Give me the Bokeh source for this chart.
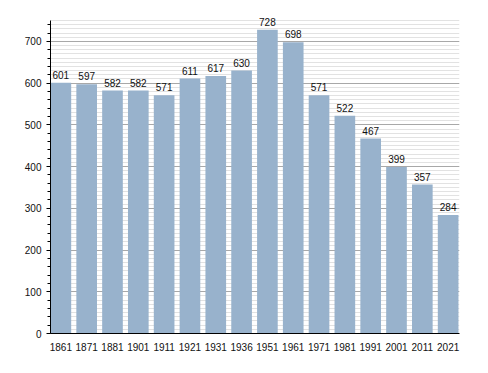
from bokeh.plotting import figure
from bokeh.models import ColumnDataSource, FixedTicker, SingleIntervalTicker, LabelSet
from bokeh.core.properties import value
from bokeh.embed import file_html
from bokeh.resources import INLINE

years = ["1861", "1871", "1881", "1901", "1911", "1921", "1931", "1936",
         "1951", "1961", "1971", "1981", "1991", "2001", "2011", "2021"]
population = [601, 597, 582, 582, 571, 611, 617, 630, 728, 698, 571, 522, 467, 399, 357, 284]
y_axis_max = 750

idx = list(range(len(years)))
src = ColumnDataSource(dict(x=idx, y=population, lab=[str(v) for v in population]))

p = figure(width=472, height=357, x_range=(-0.401, 15.44), y_range=(0, 778.75),
           output_backend="svg", toolbar_location=None,
           min_border_left=50, min_border_right=13, min_border_top=8, min_border_bottom=24)
p.outline_line_color = None
p.background_fill_color = "white"

p.vbar(x="x", top="y", width=0.80, source=src, fill_color="#98b2cc", line_color=None)

labels = LabelSet(x="x", y="y", text="lab", source=src, text_align="center",
                  text_baseline="bottom", y_offset=4, text_font_size=value("10px"),
                  text_font=value("Liberation Sans"), text_color=value("#111111"))
p.add_layout(labels)

# x axis
p.xaxis.ticker = FixedTicker(ticks=idx)
p.xaxis.major_label_overrides = {i: y for i, y in zip(idx, years)}
p.xaxis.major_tick_line_color = None
p.xaxis.minor_tick_line_color = None
p.xaxis.axis_line_color = "black"
p.xaxis.major_label_standoff = 3
p.xaxis.major_label_text_font_size = "10px"
p.xaxis.major_label_text_font = "Liberation Sans"
p.xaxis.major_label_text_color = "#111111"
p.xgrid.grid_line_color = None

# y axis
p.yaxis.ticker = SingleIntervalTicker(interval=100, num_minor_ticks=5)
p.yaxis.bounds = (0, y_axis_max)
p.yaxis.axis_line_color = "black"
p.yaxis.major_tick_in = 0
p.yaxis.major_tick_out = 4
p.yaxis.minor_tick_in = 0
p.yaxis.minor_tick_out = 3
p.yaxis.major_tick_line_color = "black"
p.yaxis.minor_tick_line_color = "black"
p.yaxis.major_label_standoff = 5
p.yaxis.major_label_text_font_size = "10px"
p.yaxis.major_label_text_font = "Liberation Sans"
p.yaxis.major_label_text_color = "#111111"

p.ygrid.ticker = SingleIntervalTicker(interval=100, num_minor_ticks=10)
p.ygrid.bounds = (0, y_axis_max)
p.ygrid.grid_line_color = "#a8a8a8"
p.ygrid.minor_grid_line_color = "#e2e2e2"
p.ygrid.level = "underlay"

open("out.html", "w").write(file_html(p, INLINE))
